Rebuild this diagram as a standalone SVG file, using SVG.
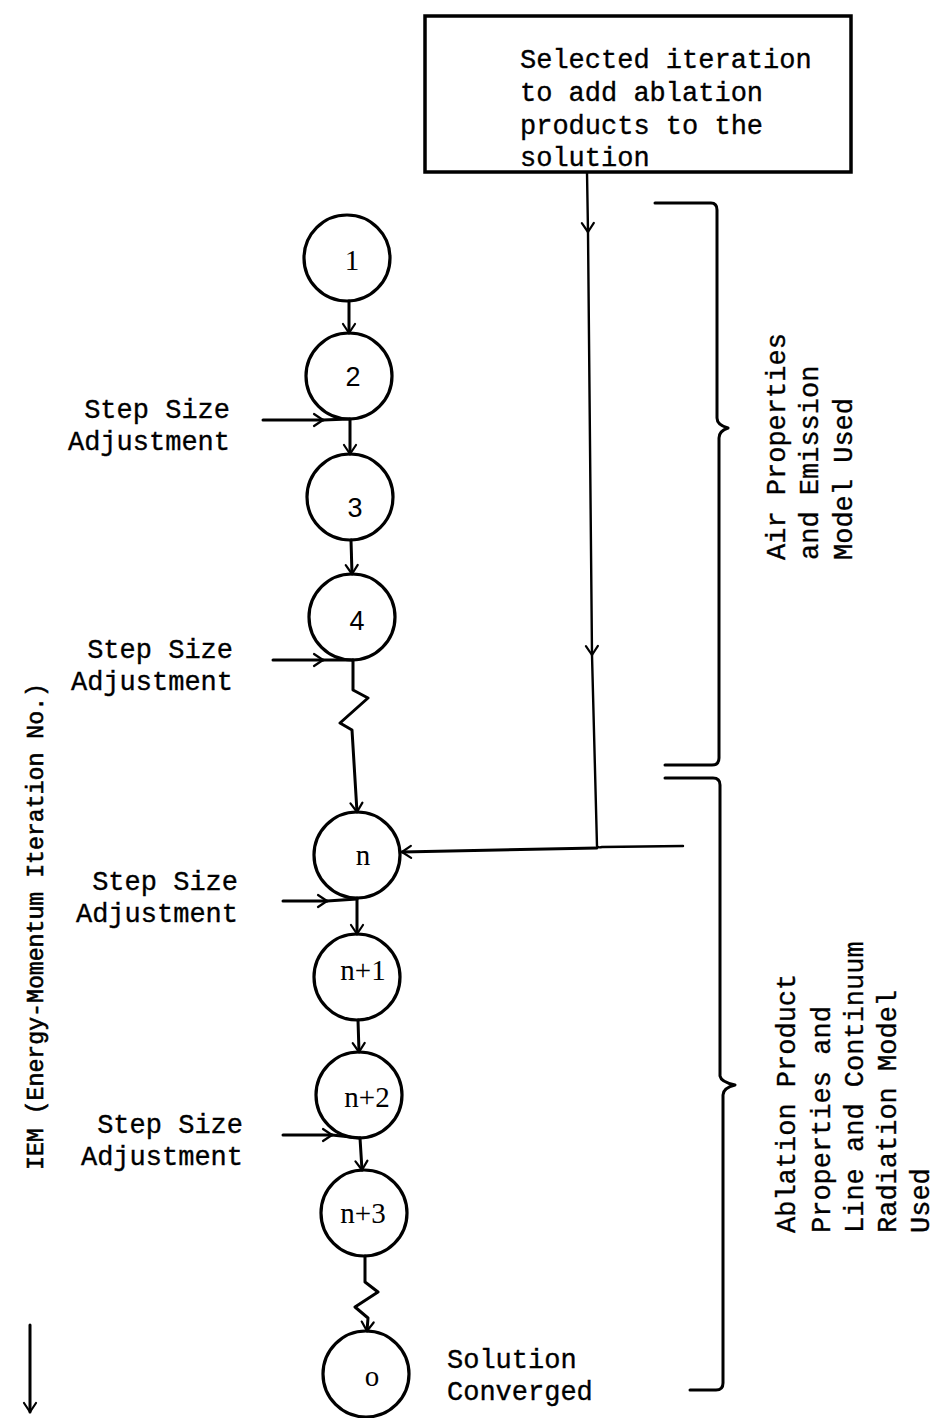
<svg xmlns="http://www.w3.org/2000/svg" width="941" height="1418" viewBox="0 0 941 1418">
<style>
.bg{fill:#fff}
.node circle{fill:none;stroke:#000;stroke-width:3.2}
.box{fill:#fff;stroke:#000;stroke-width:3.5}
.ln{fill:none;stroke:#000;stroke-width:3;stroke-linecap:round;stroke-linejoin:round}
.thin{fill:none;stroke:#000;stroke-width:2.4;stroke-linecap:round;stroke-linejoin:round}
.tw{font-family:"Liberation Mono","DejaVu Sans Mono",monospace;font-size:27px;fill:#000;stroke:#000;stroke-width:0.35}
.lbl{font-family:"Liberation Sans",Arial,sans-serif;font-size:27px;fill:#000;text-anchor:middle}
.lbls{font-family:"Liberation Serif","Times New Roman",serif;font-size:29px;fill:#000;text-anchor:middle}
.end{text-anchor:end}
</style>
<defs>
<marker id="arr" viewBox="-12 -8 14 16" refX="0" refY="0" markerWidth="14" markerHeight="16" markerUnits="userSpaceOnUse" orient="auto">
<path d="M-9,-6 L0,0 L-9,6" fill="none" stroke="#000" stroke-width="2.2" stroke-linecap="round" stroke-linejoin="round"/>
</marker>
</defs>
<rect class="bg" width="941" height="1418"/>

<g id="connectors">
<path class="thin" d="M587,172 L588,232" marker-end="url(#arr)"/>
<path class="thin" d="M588,232 L592,655" marker-end="url(#arr)"/>
<path class="thin" d="M592,655 L597,846 Q598,848 602,847 L683,846"/>
<path class="ln" d="M597,848 L402,852" marker-end="url(#arr)"/>
<path class="ln" d="M349,301 L349,333" marker-end="url(#arr)"/>
<path class="ln" d="M350,419 L350,454" marker-end="url(#arr)"/>
<path class="ln" d="M351,540 L352,574" marker-end="url(#arr)"/>
<path class="ln" d="M353,660 L353,690 L368,698 L340,723 L352,730 L357,812" marker-end="url(#arr)"/>
<path class="ln" d="M357,898 L357,934" marker-end="url(#arr)"/>
<path class="ln" d="M358,1020 L359,1052" marker-end="url(#arr)"/>
<path class="ln" d="M360,1138 L362,1170" marker-end="url(#arr)"/>
<path class="ln" d="M365,1256 L365,1282 L378,1292 L355,1307 L368,1318 L367,1331" marker-end="url(#arr)"/>
<path class="ln" d="M263,420 L323,420" marker-end="url(#arr)"/>
<path class="ln" d="M323,420 L349,419"/>
<path class="ln" d="M273,660 L323,660" marker-end="url(#arr)"/>
<path class="ln" d="M323,660 L353,660"/>
<path class="ln" d="M283,901 L327,901" marker-end="url(#arr)"/>
<path class="ln" d="M327,901 L357,899"/>
<path class="ln" d="M283,1135 L332,1135" marker-end="url(#arr)"/>
<path class="ln" d="M332,1135 L360,1138"/>
<path class="ln" d="M30,1325 L30,1412" marker-end="url(#arr)"/>
</g>

<g id="box">
<rect class="box" x="425" y="16" width="426" height="156"/>
<text class="tw" x="520" y="68">Selected iteration</text>
<text class="tw" x="520" y="101">to add ablation</text>
<text class="tw" x="520" y="134">products to the</text>
<text class="tw" x="520" y="166">solution</text>
</g>

<g id="node-1" class="node"><circle cx="347" cy="258" r="43"/><text class="lbls" x="352" y="270">1</text></g>
<g id="node-2" class="node"><circle cx="349" cy="376" r="43"/><text class="lbl" x="353" y="386">2</text></g>
<g id="node-3" class="node"><circle cx="350" cy="497" r="43"/><text class="lbl" x="355" y="517">3</text></g>
<g id="node-4" class="node"><circle cx="352" cy="617" r="43"/><text class="lbl" x="357" y="630">4</text></g>
<g id="node-n" class="node"><circle cx="357" cy="855" r="43"/><text class="lbls" x="363" y="865">n</text></g>
<g id="node-n1" class="node"><circle cx="357" cy="977" r="43"/><text class="lbls" x="363" y="980">n+1</text></g>
<g id="node-n2" class="node"><circle cx="359" cy="1095" r="43"/><text class="lbls" x="367" y="1107">n+2</text></g>
<g id="node-n3" class="node"><circle cx="364" cy="1213" r="43"/><text class="lbls" x="363" y="1223">n+3</text></g>
<g id="node-o" class="node"><circle cx="366" cy="1374" r="43"/><text class="lbls" x="372" y="1386">o</text></g>

<g id="step-labels">
<text class="tw end" x="230" y="418">Step Size</text>
<text class="tw end" x="230" y="450">Adjustment</text>
<text class="tw end" x="233" y="658">Step Size</text>
<text class="tw end" x="233" y="690">Adjustment</text>
<text class="tw end" x="238" y="890">Step Size</text>
<text class="tw end" x="238" y="922">Adjustment</text>
<text class="tw end" x="243" y="1133">Step Size</text>
<text class="tw end" x="243" y="1165">Adjustment</text>
</g>

<g id="converged-label">
<text class="tw" x="447" y="1368">Solution</text>
<text class="tw" x="447" y="1400">Converged</text>
</g>

<g id="bracket-air">
<path class="ln" d="M655,203 H711 Q717,203 717,210 V418 Q717,425 728,428 Q719,431 719,438 V758 Q719,765 712,765 H665"/>
<text class="tw" transform="translate(785,560) rotate(-90)">Air Properties</text>
<text class="tw" transform="translate(818,560) rotate(-90)">and Emission</text>
<text class="tw" transform="translate(852,560) rotate(-90)">Model Used</text>
</g>

<g id="bracket-ablation">
<path class="ln" d="M665,778 H713 Q720,778 720,785 V1076 Q721,1082 735,1085 Q723,1088 723,1095 V1383 Q723,1390 716,1390 H690"/>
<text class="tw" transform="translate(795,1233) rotate(-90)">Ablation Product</text>
<text class="tw" transform="translate(830,1233) rotate(-90)">Properties and</text>
<text class="tw" transform="translate(863,1233) rotate(-90)">Line and Continuum</text>
<text class="tw" transform="translate(896,1233) rotate(-90)">Radiation Model</text>
<text class="tw" transform="translate(929,1233) rotate(-90)">Used</text>
</g>

<g id="axis-label">
<text class="tw" style="font-size:24px;stroke-width:0.6" transform="translate(43,1170) rotate(-90)" textLength="487" lengthAdjust="spacingAndGlyphs">IEM (Energy-Momentum Iteration No.)</text>
</g>
</svg>
